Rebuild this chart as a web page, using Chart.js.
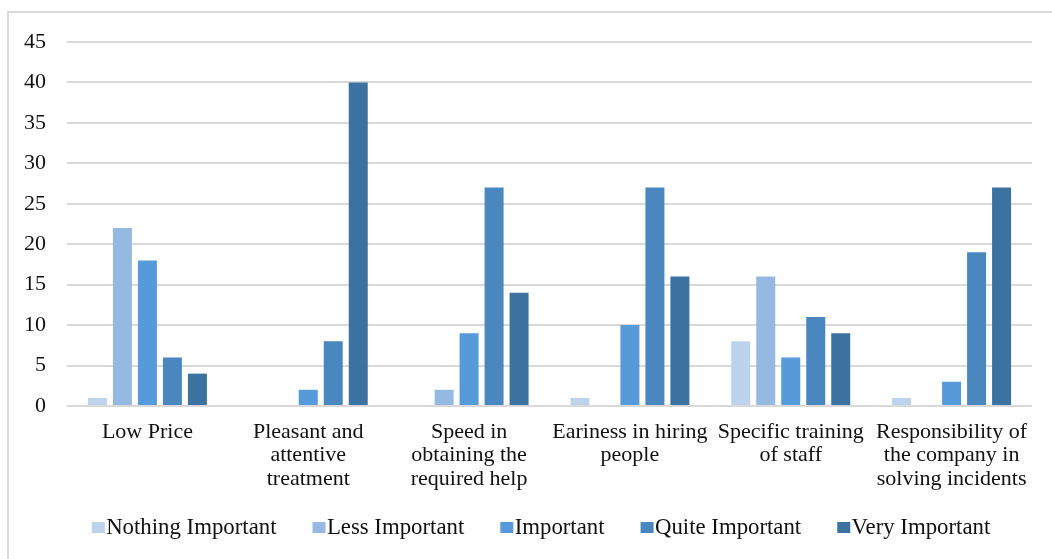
<!DOCTYPE html>
<html>
<head>
<meta charset="utf-8">
<script src="https://cdn.jsdelivr.net/npm/chart.js@4/dist/chart.umd.min.js"></script>
<style>
  html, body { margin: 0; padding: 0; background: #fff; overflow: hidden; }
  #frame {
    position: absolute; left: 7px; top: 11px; width: 1100px; height: 600px;
    border-top: 2px solid #d9d9d9; border-left: 2px solid #d9d9d9;
  }
  #wrap { position: absolute; left: 0; top: 0; width: 1052px; height: 559px; }
</style>
</head>
<body>
<div id="frame"></div>
<div id="wrap"><canvas id="chart"></canvas></div>
<script>
// Survey factors and the number of answers per importance level
const categories = [
  "Low Price",
  ["Pleasant and", "attentive", "treatment"],
  ["Speed in", "obtaining the", "required help"],
  ["Eariness in hiring", "people"],
  ["Specific training", "of staff"],
  ["Responsibility of", "the company in", "solving incidents"]
];
const seriesNames = ["Nothing Important", "Less Important", "Important", "Quite Important", "Very Important"];
const nothingImportant = [1, 0, 0, 1, 8, 1];
const lessImportant    = [22, 0, 2, 0, 16, 0];
const important        = [18, 2, 9, 10, 6, 3];
const quiteImportant   = [6, 8, 27, 27, 11, 19];
const veryImportant    = [4, 40, 14, 16, 9, 27];
const yTicks = [0, 5, 10, 15, 20, 25, 30, 35, 40, 45];

const colors = ["#bdd3ec", "#95b9e0", "#579ad9", "#4a87be", "#3c72a0"];
const values = [nothingImportant, lessImportant, important, quiteImportant, veryImportant];

const serif = "'Liberation Serif', 'Times New Roman', serif";

// Legend swatch: a 13x11 square placed on the right half of a wider
// transparent canvas, so it sits flush against its label text.
function swatch(color) {
  const c = document.createElement("canvas");
  c.width = 29;
  c.height = 11;
  const g = c.getContext("2d");
  g.fillStyle = color;
  g.fillRect(13, 0, 13, 11);
  return c;
}
const swatches = colors.map(swatch);

// Let the multi-line category labels run below the axis box,
// and nudge the legend row to sit centred under the frame.
const layoutTweaks = {
  id: "layoutTweaks",
  afterLayout(chart) {
    chart.scales.x.bottom = chart.height;
    if (chart.legend) {
      chart.legend.left += 25;
      chart.legend.right += 25;
    }
  }
};

new Chart(document.getElementById("chart"), {
  type: "bar",
  data: {
    labels: categories,
    datasets: seriesNames.map((name, i) => ({
      label: name,
      data: values[i],
      backgroundColor: colors[i],
      borderWidth: 0,
      categoryPercentage: 0.777,
      barPercentage: 0.76
    }))
  },
  plugins: [layoutTweaks],
  options: {
    responsive: true,
    maintainAspectRatio: false,
    animation: false,
    layout: { padding: { top: 42, left: 0, right: 20, bottom: 10 } },
    plugins: {
      tooltip: { enabled: false },
      legend: {
        position: "bottom",
        labels: {
          font: { family: serif, size: 22.8 },
          color: "#111",
          usePointStyle: true,
          boxWidth: 3,
          boxHeight: 11,
          padding: 36,
          generateLabels(chart) {
            const items = Chart.defaults.plugins.legend.labels.generateLabels(chart);
            items.forEach((item) => { item.pointStyle = swatches[item.datasetIndex]; });
            return items;
          }
        }
      }
    },
    scales: {
      x: {
        grid: { display: false, drawTicks: false },
        border: { display: false },
        ticks: {
          font: { family: serif, size: 22, lineHeight: 1.05 },
          color: "#111",
          padding: 15,
          maxRotation: 0,
          minRotation: 0,
          autoSkip: false
        },
        afterFit: (s) => { s.height = 74.2; }
      },
      y: {
        min: 0,
        max: 45,
        afterBuildTicks: (s) => { s.ticks = yTicks.map(v => ({ value: v })); },
        grid: { color: "#d9d9d9", lineWidth: 2, drawTicks: false },
        border: { display: false },
        ticks: {
          font: { family: serif, size: 22 },
          color: "#111",
          padding: 21
        },
        afterFit: (s) => { s.width = 67; }
      }
    }
  }
});
</script>
</body>
</html>
